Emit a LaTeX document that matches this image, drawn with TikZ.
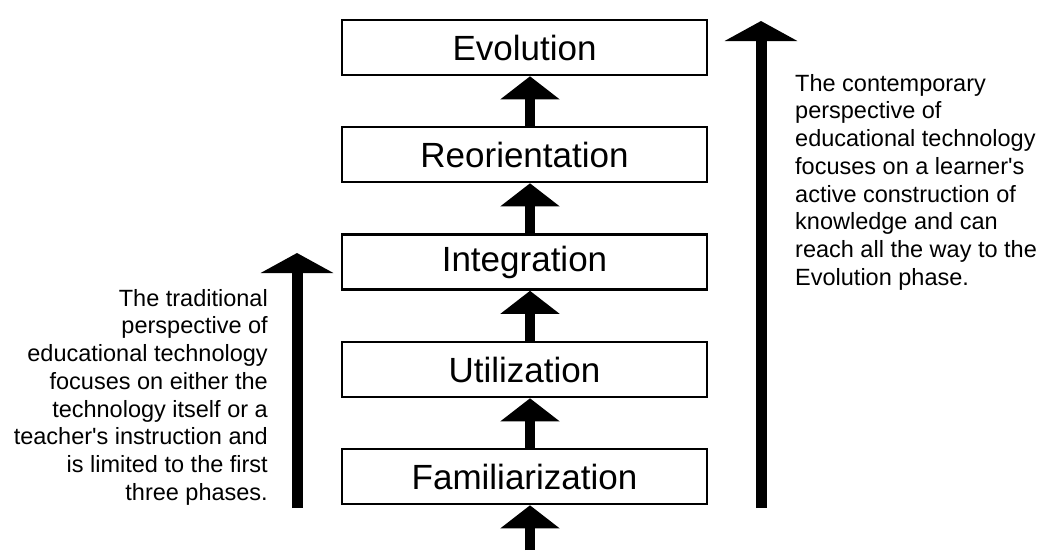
\documentclass[tikz,border=0pt]{standalone}
\usepackage{fontspec}
\setmainfont{Liberation Sans}
\usetikzlibrary{arrows.meta}
\tikzset{
  phase/.style={draw=black, line width=2.6pt, rectangle, minimum width=365pt, minimum height=55pt, inner sep=0pt, font=\fontsize{35}{40}\selectfont},
  smallarrow/.style={line width=10pt, -{Triangle[width=58pt,length=23pt]}},
  bigarrow/.style={line width=11pt, -{Triangle[width=72pt,length=20pt]}},
  note/.style={inner sep=0pt, font=\fontsize{23.5}{27.7}\selectfont}
}
\begin{document}
\begin{tikzpicture}[x=1pt,y=-1pt]
\useasboundingbox (0,0) rectangle (1040,550);
\node[phase] (evo) at (524.5,47.5) {Evolution};
\node[phase] (reo) at (524.5,154.5) {Reorientation};
\node[phase] (int) at (524.5,262) {Integration};
\node[phase] (uti) at (524.5,369.5) {Utilization};
\node[phase] (fam) at (524.5,476.5) {Familiarization};
\coordinate (ax) at (530,0);
\coordinate (start) at (530,550);
\draw[smallarrow] (start) -- (fam.south -| ax);
\draw[smallarrow] (fam.north -| ax) -- (uti.south -| ax);
\draw[smallarrow] (uti.north -| ax) -- (int.south -| ax);
\draw[smallarrow] (int.north -| ax) -- (reo.south -| ax);
\draw[smallarrow] (reo.north -| ax) -- (evo.south -| ax);
\coordinate (lb) at (297,508);
\coordinate (lt) at (297,253);
\coordinate (rb) at (761,508);
\coordinate (rt) at (761,21);
\draw[bigarrow] (lb) -- (lt);
\draw[bigarrow] (rb) -- (rt);
\node[note, align=right, anchor=north east] (ltext) at (268,289) {The traditional\\perspective of\\educational technology\\focuses on either the\\technology itself or a\\teacher\textquotesingle s instruction and\\is limited to the first\\three phases.};
\node[note, align=left, anchor=north west] (rtext) at (795,74) {The contemporary\\perspective of\\educational technology\\focuses on a learner\textquotesingle s\\active construction of\\knowledge and can\\reach all the way to the\\Evolution phase.};
\end{tikzpicture}
\end{document}
